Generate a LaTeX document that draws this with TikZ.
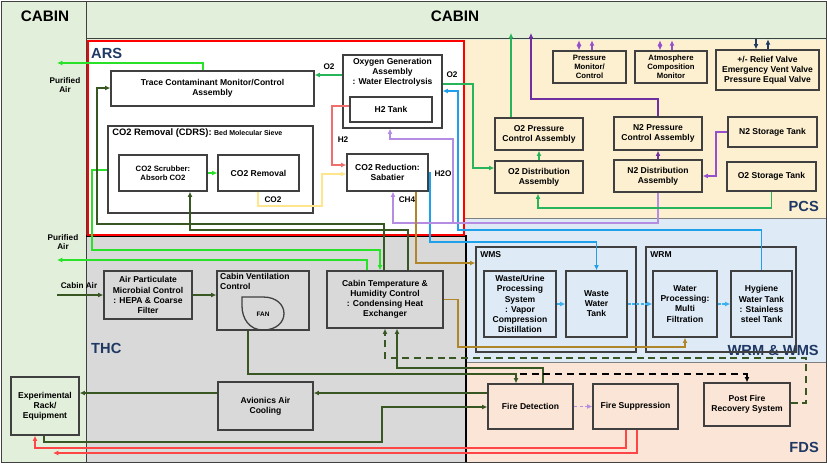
\documentclass[tikz,border=0pt]{standalone}
\usepackage{fontspec}
\setmainfont{Liberation Sans}
\usetikzlibrary{arrows.meta,positioning}

\definecolor{cabingreen}{RGB}{226,239,218}
\definecolor{pcsfill}{RGB}{253,240,208}
\definecolor{wrmfill}{RGB}{222,235,247}
\definecolor{fdsfill}{RGB}{251,229,214}
\definecolor{thcfill}{RGB}{217,217,217}
\definecolor{boxgray}{RGB}{64,64,64}
\definecolor{navy}{RGB}{31,56,100}
\definecolor{airgreen}{RGB}{40,225,40}
\definecolor{otwogreen}{RGB}{40,180,90}
\definecolor{darkgreen}{RGB}{56,87,35}
\definecolor{lavpurple}{RGB}{180,140,225}
\definecolor{monpurple}{RGB}{150,80,205}
\definecolor{nitropurple}{RGB}{112,48,160}
\definecolor{waterblue}{RGB}{30,160,235}
\definecolor{wmsblue}{RGB}{60,175,240}
\definecolor{methbrown}{RGB}{175,135,40}
\definecolor{htwored}{RGB}{240,110,110}
\definecolor{cotwoyellow}{RGB}{255,230,140}
\definecolor{firered}{RGB}{255,70,70}

\newcommand{\boxfont}{\bfseries\fontsize{7.3}{8.6}\selectfont}
\newcommand{\smallfont}{\bfseries\fontsize{6.6}{7.8}\selectfont}
\newcommand{\tagfont}{\bfseries\fontsize{7}{8}\selectfont}
\newcommand{\fanfont}{\bfseries\fontsize{5.5}{6}\selectfont}
\newcommand{\headfont}{\bfseries\fontsize{13}{15}\selectfont}
\newcommand{\regionfont}{\bfseries\fontsize{12.5}{14}\selectfont}

\tikzset{
  blk/.style 2 args={
      draw=boxgray,
      line width=1.1pt,
      align=center,
      inner sep=1pt,
      font=\boxfont,
      minimum width=#1*0.03cm,
      minimum height=#2*0.03cm
  },
  region/.style={
      font=\regionfont,
      text=navy,
      inner sep=0pt
  },
  tag/.style={
      font=\tagfont,
      align=center,
      inner sep=0pt
  },
  air/.style={draw=airgreen, line width=1.6pt},
  otwo/.style={draw=otwogreen, line width=1.2pt},
  dg/.style={draw=darkgreen, line width=1.1pt},
  dgdash/.style={draw=darkgreen, line width=1.4pt, dash pattern=on 6pt off 4pt},
  blkdash/.style={draw=black, line width=1.4pt, dash pattern=on 6pt off 4pt},
  lav/.style={draw=lavpurple, line width=1.2pt},
  mon/.style={draw=monpurple, line width=1.2pt},
  nitro/.style={draw=nitropurple, line width=1.3pt},
  vent/.style={draw=navy, line width=1.1pt},
  water/.style={draw=waterblue, line width=1.1pt},
  wms/.style={draw=wmsblue, line width=1.3pt, dash pattern=on 2.5pt off 1.2pt},
  meth/.style={draw=methbrown, line width=1.1pt},
  htwo/.style={draw=htwored, line width=1.1pt},
  cotwo/.style={draw=cotwoyellow, line width=1.1pt},
  fire/.style={draw=firered, line width=1.5pt}
}

\begin{document}
\begin{tikzpicture}[x=0.03cm, y=-0.03cm, >={Latex[length=4.5pt,width=4.2pt]}]
  \useasboundingbox (0,0) rectangle (827,465);

  % regions
  \fill[white] (0,0) rectangle (827,465);
  \fill[cabingreen] (1,1) rectangle (826,462);
  \fill[thcfill] (86,235) rectangle (465,462);
  \fill[white] (88,41) rectangle (464,235);
  \fill[pcsfill] (465,40) rectangle (826,218);
  \fill[wrmfill] (465,218) rectangle (826,362);
  \fill[fdsfill] (465,362) rectangle (826,462);
  \draw[boxgray, line width=0.8pt] (1,1) rectangle (826,462);
  \draw[boxgray, line width=0.8pt] (86,1) -- (86,462);
  \draw[boxgray, line width=0.8pt] (86,38) -- (826,38);
  \draw[gray, line width=0.6pt] (465,218) -- (826,218) (465,362) -- (826,362);
  \draw[black, line width=1pt] (86,236) -- (466,236) -- (466,462);
  \draw[red, line width=2pt] (88,41) rectangle (464,235);

  \node[font=\headfont] (cabinl) at (45,16) {CABIN};
  \node[font=\headfont] (cabinr) at (455,16) {CABIN};
  \node[region, anchor=west] (arsl) at (91,53) {ARS};
  \node[region, anchor=west] (thcl) at (91,348) {THC};
  \node[region, anchor=east] (pcsl) at (819,206) {PCS};
  \node[region, anchor=east] (wrmwmsl) at (819,350) {WRM \& WMS};
  \node[region, anchor=east] (fdsl) at (819,447) {FDS};

  % ARS
  \node[blk={203}{35}, fill=white] (tcma) at (212.5,88.5) {Trace Contaminant Monitor/Control\\Assembly};
  \node[blk={205}{87}, fill=white] (cdrs) at (210.5,169.5) {};
  \node[tag, below right=3pt and 4pt of cdrs.north west] (cdrsl) {{\fontsize{8}{9}\selectfont CO2 Removal (CDRS):} {\fontsize{6}{7}\selectfont Bed Molecular Sieve}};
  \node[blk={88}{36}, fill=white, font=\smallfont] (scrub) at (163,173) {CO2 Scrubber:\\Absorb CO2};
  \node[blk={81}{36}, fill=white] (co2rem) at (258.5,173) {CO2 Removal};
  \node[blk={99}{73}, fill=white] (oga) at (392.5,91.5) {};
  \node[tag, font=\boxfont, below=3pt of oga.north] (ogat) {Oxygen Generation\\Assembly\\: Water Electrolysis};
  \node[blk={82}{25}, fill=white] (htank) at (391,109.5) {H2 Tank};
  \node[blk={81}{37}, fill=white] (sab) at (387.5,172.5) {CO2 Reduction:\\Sabatier};

  % PCS
  \node[blk={73}{32}, fill=pcsfill, font=\smallfont] (pmc) at (589.5,67) {Pressure\\Monitor/\\Control};
  \node[blk={72}{32}, fill=pcsfill, font=\smallfont] (acm) at (671,67) {Atmosphere\\Composition\\Monitor};
  \node[blk={103}{40}, fill=pcsfill] (relv) at (767.5,70) {+/- Relief Valve\\Emergency Vent Valve\\Pressure Equal Valve};
  \node[blk={88}{32}, fill=pcsfill] (o2pc) at (539,134) {O2 Pressure\\Control Assembly};
  \node[blk={88}{32}, fill=pcsfill] (o2da) at (539,177) {O2 Distribution\\Assembly};
  \node[blk={88}{33}, fill=pcsfill] (n2pc) at (658,133.5) {N2 Pressure\\Control Assembly};
  \node[blk={88}{32}, fill=pcsfill] (n2da) at (658,176) {N2 Distribution\\Assembly};
  \node[blk={89}{30}, fill=pcsfill] (n2st) at (772.5,132) {N2 Storage Tank};
  \node[blk={89}{29}, fill=pcsfill] (o2st) at (771.5,176.5) {O2 Storage Tank};

  % THC
  \node[blk={88}{48}, fill=thcfill] (hepa) at (148,295) {Air Particulate\\Microbial Control\\: HEPA \& Coarse\\Filter};
  \node[blk={92}{59}, fill=thcfill] (cvc) at (263,300.5) {};
  \node[tag, font=\boxfont, align=left, below right=2pt and 3pt of cvc.north west] (cvct) {Cabin Ventilation\\Control};
  \draw[boxgray, line width=1.1pt] (242,297) -- (263,297) .. controls (291,297) and (291,330) .. (263,330)
      .. controls (249,330) and (242,318) .. (242,306) -- cycle;
  \node[font=\fanfont, inner sep=0pt] (fan) at (263,314) {FAN};
  \node[blk={116}{57}, fill=thcfill] (ctc) at (385,299.5) {Cabin Temperature \&\\Humidity Control\\: Condensing Heat\\Exchanger};
  \node[blk={95}{48}, fill=thcfill] (aac) at (265.5,406) {Avionics Air\\Cooling};
  \node[blk={68}{58}, fill=cabingreen] (exp) at (45,406) {Experimental\\Rack/\\Equipment};

  % WRM & WMS
  \node[blk={160}{105}] (wmsbox) at (556,299.5) {};
  \node[tag, font=\boxfont, below right=4pt and 4pt of wmsbox.north west] (wmsl) {WMS};
  \node[blk={150}{105}] (wrmbox) at (721,299.5) {};
  \node[tag, font=\boxfont, below right=4pt and 4pt of wrmbox.north west] (wrml) {WRM};
  \node[blk={72}{66}, fill=wrmfill] (wups) at (520,304) {Waste/Urine\\Processing\\System\\: Vapor\\Compression\\Distillation};
  \node[blk={61}{66}, fill=wrmfill] (wwt) at (596.5,304) {Waste\\Water\\Tank};
  \node[blk={64}{66}, fill=wrmfill] (wpmf) at (685,304) {Water\\Processing:\\Multi\\Filtration};
  \node[blk={61}{66}, fill=wrmfill] (hwt) at (761.5,304) {Hygiene\\Water Tank\\: Stainless\\steel Tank};

  % FDS
  \node[blk={85}{45}, fill=fdsfill] (fdet) at (530.5,406.5) {Fire Detection};
  \node[blk={85}{45}, fill=fdsfill] (fsup) at (635.5,406.5) {Fire Suppression};
  \node[blk={86}{43}, fill=fdsfill] (pfrs) at (747,404.5) {Post Fire\\Recovery System};

  % free ends
  \coordinate (airout1) at (57,63);
  \coordinate (airout2) at (57,260);
  \coordinate (cabinin) at (57,295);
  \coordinate (o2out) at (511,33);
  \coordinate (n2out) at (531,33);
  \coordinate (lavsplit) at (453,223);
  \coordinate (fdsplit) at (520,374);
  \coordinate (fireout) at (53,453);

  \node[tag] (pa1) at (65,85) {Purified\\Air};
  \node[tag] (pa2) at (63,242) {Purified\\Air};
  \node[tag] (cal) at (79,286) {Cabin Air};
  \node[tag] (o2l) at (329,67) {O2};
  \node[tag] (o2r) at (452,75) {O2};
  \node[tag] (h2l) at (343,140) {H2};
  \node[tag] (co2l) at (273,200) {CO2};
  \node[tag] (h2ol) at (443,174) {H2O};
  \node[tag] (ch4l) at (407,200) {CH4};

  % ARS flows
  \draw[otwo,->] (oga.west |- 0,75) -- (tcma.east |- 0,75);
  \draw[otwo,->] (oga.east |- 0,84) -| (473,168) -- (o2da.west |- 0,168);
  \draw[htwo,->] (htank.west |- 0,106) -- (332,106) |- (sab.west |- 0,165);
  \draw[cotwo,->] (co2rem.south -| 258,0) |- (322,206) |- (sab.west |- 0,174);
  \draw[water,->] (sab.east) -| (430,242) -| (wwt.north);
  \draw[water,->] (hwt.north) |- (458,230) |- (oga.east |- 0,91);
  \draw[lav,->] (n2da.south) |- (393,223) -- (sab.south -| 393,0);
  \draw[lav,->] (lavsplit) |- (390,139) -- (oga.south -| 390,0);
  \draw[meth,->] (sab.south -| 416,0) |- (wmsbox.west |- 0,263);
  \draw[air,->] (scrub) -- (co2rem);
  \draw[air,->] (tcma.north -| 203,0) |- (airout1);
  \draw[air,->] (cdrs.west |- 0,170) -| (92,250) -| (ctc.north -| 380,0);
  \draw[air,->] (ctc.north -| 367,0) |- (airout2);

  % PCS flows
  \draw[otwo,->] (o2da) -- (o2pc);
  \draw[otwo,->] (o2pc.north -| 511,0) -- (o2out);
  \draw[otwo,->] (o2st.south) |- (538,208) -- (o2da.south -| 538,0);
  \draw[nitro,->] (n2da) -- (n2pc);
  \draw[nitro,->] (n2pc.north) |- (531,99) -- (n2out);
  \draw[mon,->] (n2st.west) -| (716,176) -- (n2da.east |- 0,176);
  \draw[mon,<->] (pmc.north -| 579,0) -- ++(0,-10);
  \draw[mon,->] (pmc.north -| 592,0) -- ++(0,-10);
  \draw[mon,<->] (acm.north -| 660,0) -- ++(0,-10);
  \draw[mon,->] (acm.north -| 672,0) -- ++(0,-10);
  \draw[vent,<-] (relv.north -| 756,0) -- ++(0,-10);
  \draw[vent,->] (relv.north -| 768,0) -- ++(0,-10);

  % THC flows
  \draw[dg,->] (cabinin) -- (hepa);
  \draw[dg,->] (hepa) -- (cvc.west |- hepa);
  \draw[dg,->] (ctc.north -| 384,0) |- (97,224) |- (tcma.west |- 0,88);
  \draw[dg,->] (ctc.north -| 408,0) |- (190,230) -- (scrub.south -| 190,0);
  \draw[dg,->] (cvc.south -| 248,0) |- (516,374) -- (fdet.north -| 516,0);
  \draw[dg,->] (fdet.north -| 543,0) |- (397,368) -- (ctc.south -| 397,0);
  \draw[dgdash,->] (pfrs.east |- 0,403) -| (806,358) -| (ctc.south -| 385,0);
  \draw[meth,->] (ctc.east) -| (458,347) -| (wpmf.south);
  \draw[dg,->] (fdet.west |- 0,393) -- (aac.east |- 0,393);
  \draw[dg,->] (aac.west |- 0,393) -- (exp.east |- 0,393);
  \draw[dg,->] (exp.south -| 44,0) |- (382,442) |- (fdet.west |- 0,407);

  % WRM & WMS flows
  \draw[wms,->] (wups) -- (wwt);
  \draw[wms,->] (wwt) -- (wpmf);
  \draw[wms,->] (wpmf) -- (hwt);

  % FDS flows
  \draw[lav,densely dashed,->] (fdet) -- (fsup);
  \draw[blkdash,->] (fdsplit) -| (pfrs.north);
  \draw[fire,->] (fsup.south -| 626,0) |- (35,448) -- (exp.south -| 35,0);
  \draw[fire,->] (fsup.south -| 637,0) |- (fireout);
\end{tikzpicture}
\end{document}
